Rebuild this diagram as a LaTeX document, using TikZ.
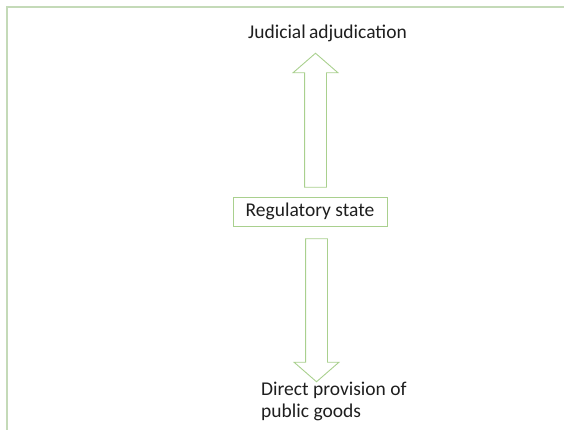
\documentclass[tikz,border=0pt]{standalone}
\usepackage{fontspec}
\setmainfont{Carlito}
\usepackage{xcolor}
\usetikzlibrary{shapes.arrows}

\definecolor{arrowgreen}{RGB}{169,208,142}
\definecolor{framegreen}{RGB}{196,218,184}
\definecolor{textgray}{RGB}{30,30,30}

\begin{document}
\begin{tikzpicture}[x=1pt, y=1pt,
    every node/.style={font=\fontsize{19.5}{22}\selectfont, text=textgray},
    blockarrow/.style={draw=arrowgreen, line width=0.9pt, single arrow, inner xsep=0pt, inner ysep=10.5pt,
        single arrow head extend=11.5pt, single arrow tip angle=98},
    statebox/.style={draw=arrowgreen, line width=0.9pt, rectangle, minimum width=154pt, minimum height=29pt, inner sep=0pt}]
    \useasboundingbox (0,0) rectangle (564,430);

    % Frame round the slide
    \draw[framegreen, line width=1.3pt] (7,0) -- (7,423) -- (564,423);

    % Central box
    \node[statebox] (regstate) at (310,218.5) {Regulatory state};

    % Outcomes
    \node[anchor=base, inner sep=0pt] (judicial) at (327.5,391) {Judicial\,adjudication};
    \node[anchor=base west, inner sep=0pt, align=left] (provision) at (261,12) {Direct provision of\\
        public goods};

    % Block arrows
    \node[blockarrow, rotate=90, minimum height=134pt] (uparrow) at (315.5,305) {};
    \node[blockarrow, rotate=-90, minimum height=143pt] (downarrow) at (316.5,124.5) {};
\end{tikzpicture}
\end{document}
